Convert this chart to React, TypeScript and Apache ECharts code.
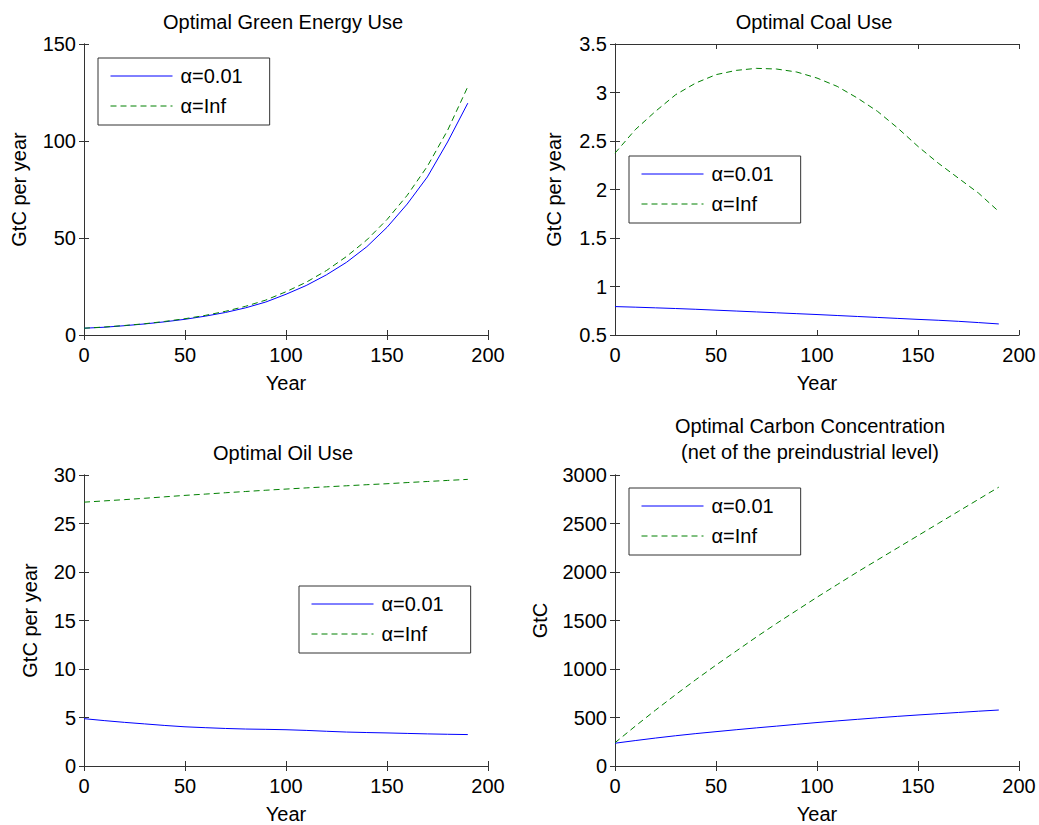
import React, { useEffect, useRef } from "react";
import * as echarts from "echarts";

// Years after the start of the simulation (one point per decade)
const years = [0, 10, 20, 30, 40, 50, 60, 70, 80, 90, 100, 110, 120, 130, 140, 150, 160, 170, 180, 190];

// Optimal green energy use, GtC per year
const greenLow = [3.5, 4.0, 4.8, 5.7, 6.8, 8.1, 9.7, 11.6, 14.0, 17.0, 21.0, 25.5, 31.0, 37.5, 45.5, 55.5, 67.5, 81.5, 99.5, 119.5];
const greenInf = [3.5, 4.1, 4.9, 5.8, 7.0, 8.4, 10.1, 12.2, 14.8, 18.0, 22.3, 27.2, 33.2, 40.5, 49.0, 59.5, 72.0, 87.0, 105.5, 128.0];

// Optimal coal use, GtC per year
const coalLow = [0.793, 0.787, 0.78, 0.773, 0.765, 0.756, 0.747, 0.738, 0.729, 0.72, 0.711, 0.701, 0.691, 0.681, 0.671, 0.661, 0.652, 0.641, 0.628, 0.614];
const coalInf = [2.375, 2.616, 2.805, 2.977, 3.098, 3.184, 3.228, 3.249, 3.242, 3.211, 3.149, 3.063, 2.943, 2.805, 2.633, 2.444, 2.272, 2.117, 1.962, 1.773];

// Optimal oil use, GtC per year
const oilLow = [4.88, 4.68, 4.5, 4.34, 4.18, 4.04, 3.95, 3.87, 3.81, 3.78, 3.74, 3.67, 3.58, 3.5, 3.45, 3.41, 3.36, 3.31, 3.27, 3.24];
const oilInf = [27.2, 27.33, 27.46, 27.6, 27.75, 27.9, 28.03, 28.17, 28.3, 28.43, 28.55, 28.67, 28.78, 28.89, 29.0, 29.1, 29.22, 29.33, 29.44, 29.55];

// Carbon concentration net of the preindustrial level, GtC
const carbonLow = [235, 262, 288, 312, 334, 354, 374, 393, 411, 430, 448, 465, 481, 497, 512, 526, 539, 552, 565, 577];
const carbonInf = [240, 410, 575, 735, 890, 1040, 1185, 1330, 1470, 1605, 1740, 1870, 2000, 2125, 2250, 2375, 2500, 2625, 2750, 2875];

const seriesNames = ["α=0.01", "α=Inf"];
const xTicks = { min: 0, max: 200, interval: 50 };

const FONT = "'Liberation Sans', Arial, Helvetica, sans-serif";
const AXIS_COLOR = "#333";
const BLUE = "#0000ff";
const GREEN = "#008000";

type Panel = {
  title: string;
  titleX: number;
  titleY: number;
  grid: { left: number; top: number; width: number; height: number };
  y: { min: number; max: number; interval: number };
  yName: string;
  yNameGap: number;
  low: number[];
  inf: number[];
  legend: { left: number; top: number };
};

const panels: Panel[] = [
  {
    title: "Optimal Green Energy Use",
    titleX: 283,
    titleY: 22,
    grid: { left: 84, top: 44, width: 404, height: 291 },
    y: { min: 0, max: 150, interval: 50 },
    yName: "GtC per year",
    yNameGap: 55,
    low: greenLow,
    inf: greenInf,
    legend: { left: 98, top: 58 },
  },
  {
    title: "Optimal Coal Use",
    titleX: 814,
    titleY: 22,
    grid: { left: 615, top: 44, width: 404, height: 291 },
    y: { min: 0.5, max: 3.5, interval: 0.5 },
    yName: "GtC per year",
    yNameGap: 51,
    low: coalLow,
    inf: coalInf,
    legend: { left: 629, top: 156 },
  },
  {
    title: "Optimal Oil Use",
    titleX: 283,
    titleY: 453,
    grid: { left: 84, top: 475, width: 404, height: 291 },
    y: { min: 0, max: 30, interval: 5 },
    yName: "GtC per year",
    yNameGap: 44,
    low: oilLow,
    inf: oilInf,
    legend: { left: 299, top: 586 },
  },
  {
    title: "Optimal Carbon Concentration\n(net of the preindustrial level)",
    titleX: 810,
    titleY: 439,
    grid: { left: 615, top: 475, width: 404, height: 291 },
    y: { min: 0, max: 3000, interval: 500 },
    yName: "GtC",
    yNameGap: 65,
    low: carbonLow,
    inf: carbonInf,
    legend: { left: 629, top: 488 },
  },
];

const pairs = (ys: number[]) => years.map((x, i) => [x, ys[i]]);
const plainNumber = (v: number) => String(v);

function buildOption() {
  const grid: any[] = [];
  const xAxis: any[] = [];
  const yAxis: any[] = [];
  const series: any[] = [];
  const legend: any[] = [];
  const graphic: any[] = [];

  const tickStyle = { show: true, inside: true, length: 5, lineStyle: { color: AXIS_COLOR, width: 1 } };
  const lineStyle = { show: true, lineStyle: { color: AXIS_COLOR, width: 1 } };
  const labelStyle = { fontSize: 20, color: "#000", fontFamily: FONT };

  panels.forEach((p, g) => {
    grid.push({ ...p.grid, containLabel: false });

    // bottom axis with labels, top axis carries only the box edge and ticks
    xAxis.push({
      type: "value",
      gridIndex: g,
      position: "bottom",
      ...xTicks,
      axisLine: lineStyle,
      axisTick: tickStyle,
      splitLine: { show: false },
      axisLabel: { ...labelStyle, margin: 10, formatter: plainNumber },
      name: "Year",
      nameLocation: "middle",
      nameGap: 38,
      nameTextStyle: labelStyle,
    });
    xAxis.push({
      type: "value",
      gridIndex: g,
      position: "top",
      ...xTicks,
      axisLine: lineStyle,
      axisTick: tickStyle,
      splitLine: { show: false },
      axisLabel: { show: false },
    });

    yAxis.push({
      type: "value",
      gridIndex: g,
      position: "left",
      ...p.y,
      axisLine: lineStyle,
      axisTick: tickStyle,
      splitLine: { show: false },
      axisLabel: { ...labelStyle, margin: 8, formatter: plainNumber },
      name: p.yName,
      nameLocation: "middle",
      nameGap: p.yNameGap,
      nameTextStyle: labelStyle,
    });
    yAxis.push({
      type: "value",
      gridIndex: g,
      position: "right",
      ...p.y,
      axisLine: lineStyle,
      axisTick: tickStyle,
      splitLine: { show: false },
      axisLabel: { show: false },
    });

    series.push({
      type: "line",
      name: seriesNames[0],
      xAxisIndex: 2 * g,
      yAxisIndex: 2 * g,
      data: pairs(p.low),
      symbol: "none",
      lineStyle: { color: BLUE, width: 1 },
      itemStyle: { color: BLUE },
    });
    series.push({
      type: "line",
      name: seriesNames[1],
      xAxisIndex: 2 * g,
      yAxisIndex: 2 * g,
      data: pairs(p.inf),
      symbol: "none",
      lineStyle: { color: GREEN, width: 1, type: [6, 4] },
      itemStyle: { color: GREEN },
    });

    legend.push({
      show: true,
      orient: "vertical",
      left: p.legend.left,
      top: p.legend.top,
      padding: [7, 27, 8, 12],
      itemGap: 8,
      itemWidth: 62,
      itemHeight: 14,
      selectedMode: false,
      backgroundColor: "#fff",
      borderColor: AXIS_COLOR,
      borderWidth: 1,
      borderRadius: 0,
      itemStyle: { opacity: 0, borderWidth: 0 },
      lineStyle: { width: 1 },
      textStyle: { ...labelStyle, lineHeight: 22, padding: [0, 0, 0, 3] },
      data: seriesNames.map((name) => ({ name })),
    });

    graphic.push({
      type: "text",
      x: p.titleX,
      y: p.titleY,
      style: {
        text: p.title,
        fontSize: 20,
        lineHeight: 26,
        fontFamily: FONT,
        fill: "#000",
        align: "center",
        verticalAlign: "middle",
      },
    });
  });

  return {
    animation: false,
    backgroundColor: "#fff",
    textStyle: { fontFamily: FONT },
    grid,
    xAxis,
    yAxis,
    series,
    legend,
    graphic,
  };
}

export default function App() {
  const ref = useRef<HTMLDivElement>(null);

  useEffect(() => {
    if (!ref.current) return;
    const chart = echarts.init(ref.current, undefined, { renderer: "svg" });
    chart.setOption(buildOption());
    return () => chart.dispose();
  }, []);

  return (
    <div
      ref={ref}
      style={{ position: "absolute", left: 0, top: 0, width: 1039, height: 825, background: "#fff" }}
    />
  );
}
